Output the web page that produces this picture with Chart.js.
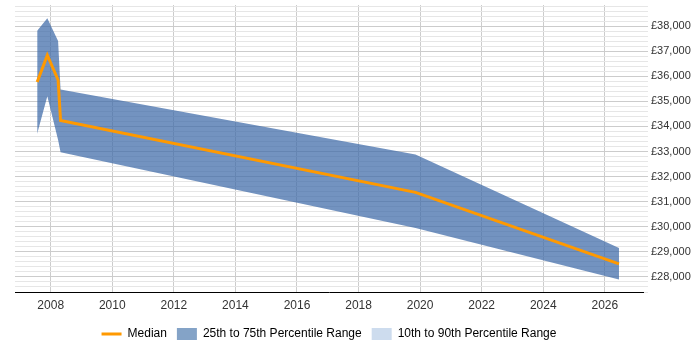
<!DOCTYPE html>
<html>
<head>
<meta charset="utf-8">
<script src="https://cdn.jsdelivr.net/npm/chart.js@4/dist/chart.umd.min.js"></script>
<style>
  html, body { margin: 0; padding: 0; background: #fff; }
  #wrap { width: 700px; height: 350px; position: relative; }
</style>
</head>
<body>
<div id="wrap"><canvas id="salaryChart"></canvas></div>
<script>
// time points (decimal years) and salary percentiles
const years = [2007.56, 2007.89, 2008.24, 2008.32, 2019.85, 2026.46];
const median = [35770, 36840, 35850, 34240, 31370, 28520];
const p75 = [37810, 38310, 37410, 35470, 32880, 29150];
const p25 = [33710, 35200, 33460, 32970, 29950, 27900];
const yearTicks = [2008, 2010, 2012, 2014, 2016, 2018, 2020, 2022, 2024, 2026];
const legendLabels = ['Median', '25th to 75th Percentile Range', '10th to 90th Percentile Range'];

const pts = arr => arr.map((v, i) => ({ x: years[i], y: v }));
const FONT = 'Arial, "Liberation Sans", sans-serif';

// gridlines every £200, labels every £1,000
const salaryTicks = [];
for (let v = 27400; v <= 38800; v += 200) salaryTicks.push(v);

// centre the legend under the plot area rather than the whole canvas
const legendShift = {
    id: 'legendShift',
    afterLayout(chart) {
        const lg = chart.legend, ca = chart.chartArea;
        if (!lg || !ca) return;
        const dx = (ca.left + ca.right) / 2 - (lg.left + lg.right) / 2;
        lg.left += dx;
        lg.right += dx;
    }
};

document.addEventListener('DOMContentLoaded', function() {
    const ctx = document.getElementById('salaryChart');

    new Chart(ctx, {
        type: 'line',
        data: {
            datasets: [{
                label: legendLabels[0],
                data: pts(median),
                borderColor: '#ff9900',
                borderWidth: 3,
                pointRadius: 0,
                fill: false,
                tension: 0
            }, {
                label: 'p75',
                data: pts(p75),
                borderWidth: 0,
                borderColor: 'rgba(0,0,0,0)',
                backgroundColor: 'rgba(61, 106, 168, 0.72)',
                pointRadius: 0,
                fill: '+1',
                tension: 0
            }, {
                label: 'p25',
                data: pts(p25),
                borderWidth: 0,
                borderColor: 'rgba(0,0,0,0)',
                pointRadius: 0,
                fill: false,
                tension: 0
            }]
        },
        options: {
            responsive: true,
            maintainAspectRatio: false,
            animation: false,
            layout: { padding: { left: 15, top: 5, right: 0, bottom: 0 } },
            plugins: {
                tooltip: { enabled: false },
                legend: {
                    position: 'bottom',
                    labels: {
                        font: { family: FONT, size: 12 },
                        color: '#222',
                        usePointStyle: true,
                        pointStyleWidth: 20,
                        boxHeight: 12,
                        padding: 10,
                        generateLabels: function() {
                            return [
                                { text: legendLabels[0], pointStyle: 'line', strokeStyle: '#ff9900', fillStyle: '#ff9900', lineWidth: 3 },
                                { text: legendLabels[1], pointStyle: 'rect', strokeStyle: '#84a3c7', fillStyle: '#84a3c7', lineWidth: 0 },
                                { text: legendLabels[2], pointStyle: 'rect', strokeStyle: '#cddcee', fillStyle: '#cddcee', lineWidth: 0 }
                            ];
                        }
                    }
                }
            },
            scales: {
                x: {
                    type: 'linear',
                    min: 2006.84,
                    max: 2027.24,
                    afterBuildTicks: function(axis) {
                        axis.ticks = yearTicks.map(v => ({ value: v }));
                    },
                    afterFit: function(axis) {
                        axis.height = 26;
                        axis.paddingLeft = 0;
                        axis.paddingRight = 0;
                    },
                    ticks: {
                        callback: v => String(v),
                        font: { family: FONT, size: 12 },
                        color: '#333',
                        padding: 6,
                        maxRotation: 0
                    },
                    grid: { color: '#cccccc', drawTicks: false },
                    border: { display: true, color: '#000', width: 1 }
                },
                y: {
                    position: 'right',
                    min: 27400,
                    max: 38840,
                    afterBuildTicks: function(axis) {
                        axis.ticks = salaryTicks.map(v => ({ value: v }));
                    },
                    afterFit: function(axis) {
                        axis.width = 57;
                        axis.paddingTop = 0;
                        axis.paddingBottom = 0;
                    },
                    ticks: {
                        autoSkip: false,
                        font: { family: FONT, size: 11 },
                        color: '#333',
                        padding: 3,
                        callback: v => v % 1000 === 0 ? '£' + v.toLocaleString('en-GB') : ''
                    },
                    grid: {
                        color: c => (c.tick && c.tick.value % 1000 === 0) ? '#cccccc' : '#e6e6e6',
                        tickLength: 5
                    },
                    border: { display: false }
                }
            }
        },
        plugins: [legendShift]
    });
});
</script>
</body>
</html>
